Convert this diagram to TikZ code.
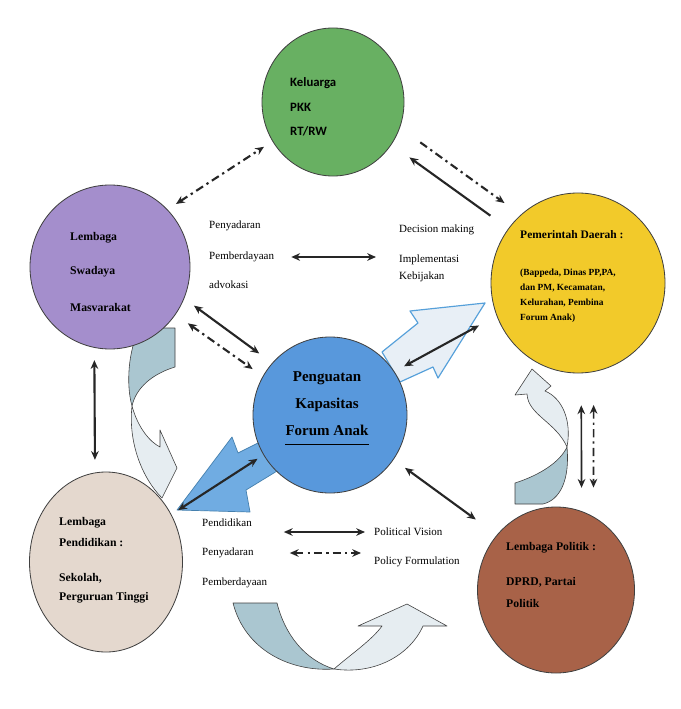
\documentclass[tikz,border=0pt]{standalone}
\usepackage{fontspec}
\setmainfont{Liberation Serif}
\newfontfamily\calibrifont{Carlito}
\usepackage{xcolor}
\usepackage{tikz}
\usetikzlibrary{arrows.meta,shapes.geometric}

\definecolor{keluargaGreen}{RGB}{104,176,98}
\definecolor{lsmPurple}{RGB}{164,142,204}
\definecolor{pemdaYellow}{RGB}{242,202,42}
\definecolor{forumBlue}{RGB}{88,152,220}
\definecolor{pendidikanBeige}{RGB}{228,216,206}
\definecolor{politikBrown}{RGB}{168,98,72}
\definecolor{ribbonDark}{RGB}{170,198,208}
\definecolor{ribbonLight}{RGB}{230,237,241}
\definecolor{bigArrowBlue}{RGB}{112,172,226}
\definecolor{hollowBlue}{RGB}{86,160,218}
\definecolor{hollowFill}{RGB}{232,239,246}

\begin{document}
\begin{tikzpicture}[x=0.03cm,y=-0.03cm]
\useasboundingbox[fill=white] (0,0) rectangle (681,709);

% curved ribbons (behind the circles)
\begin{scope}[draw=black!75,line width=0.5pt,line join=round]
    % left: Swadaya -> Pendidikan
    \filldraw[fill=ribbonDark] (140,328) -- (175,328) -- (175,367)
        .. controls (152,374) and (136,388) .. (132,406)
        .. controls (126,385) and (128,350) .. (140,328) -- cycle;
    \filldraw[fill=ribbonLight] (132,406) .. controls (138,428) and (150,442) .. (160,447)
        -- (160,430) -- (177,468) -- (162,498)
        .. controls (142,478) and (128,442) .. (132,406) -- cycle;
    % right: Politik -> Pemerintah
    \filldraw[fill=ribbonDark] (515,483) -- (515,504) -- (543,504)
        .. controls (560,500) and (570,480) .. (567,447)
        .. controls (560,462) and (540,475) .. (515,483) -- cycle;
    \filldraw[fill=ribbonLight] (567,447) .. controls (572,420) and (562,398) .. (545,391)
        -- (551,386) -- (532,369) -- (515,395) -- (527,394)
        .. controls (528,415) and (556,422) .. (567,447) -- cycle;
    % bottom: U-turn
    \filldraw[fill=ribbonDark] (233,603) -- (277,603)
        .. controls (285,635) and (305,660) .. (334,669)
        .. controls (290,672) and (245,650) .. (233,603) -- cycle;
    \filldraw[fill=ribbonLight] (334,669) .. controls (350,655) and (372,640) .. (382,626)
        -- (358,626) -- (407,604) -- (447,626) -- (423,626)
        .. controls (410,655) and (375,675) .. (334,669) -- cycle;
\end{scope}

% big arrows out of the centre
\begin{scope}[line join=round]
    \filldraw[fill=bigArrowBlue,draw=hollowBlue!80!black,line width=0.6pt]
        (177,510) -- (232,437) -- (238,453) -- (268,438) -- (282,468)
        -- (246,490) -- (250,512) -- cycle;
    \filldraw[fill=hollowFill,draw=hollowBlue,line width=1pt]
        (382,352) -- (418,323) -- (410,311) -- (485,303) -- (438,378)
        -- (433,367) -- (400,382) -- cycle;
\end{scope}

\begin{scope}[every node/.style={ellipse,draw=black!75,line width=0.7pt,inner sep=0pt}]
    \node[fill=keluargaGreen,minimum width=4.26cm,minimum height=4.44cm] (keluarga) at (333,102) {};
    \node[fill=lsmPurple,minimum width=4.8cm,minimum height=4.92cm] (swadaya) at (110,267) {};
    \node[fill=pemdaYellow,minimum width=5.22cm,minimum height=5.4cm] (pemda) at (578,283) {};
    \node[fill=forumBlue,minimum width=4.62cm,minimum height=4.68cm] (forum) at (330,415) {};
    \node[fill=pendidikanBeige,minimum width=4.59cm,minimum height=5.4cm] (pendidikan) at (106,562) {};
    \node[fill=politikBrown,minimum width=4.71cm,minimum height=4.98cm] (politik) at (556,590) {};
\end{scope}

% texts inside the circles
\begin{scope}[every node/.style={anchor=west,inner sep=0pt,font=\calibrifont\bfseries\fontsize{10.9}{13}\selectfont}]
    \node (keluargaTxt) at (290,83) {Keluarga};
    \node (pkkTxt) at (290,107) {PKK};
    \node (rtrwTxt) at (290,131) {RT/RW};
\end{scope}
\begin{scope}[every node/.style={anchor=west,inner sep=0pt,font=\bfseries\fontsize{10}{12}\selectfont}]
    \node (lembagaA) at (70,238) {Lembaga};
    \node (swadayaTxt) at (70,272) {Swadaya};
    \node (masvarakat) at (70,307) {Masvarakat};
    \node (lembagaB) at (59,523) {Lembaga};
    \node (pendidikanTxt) at (59,543) {Pendidikan :};
    \node (sekolah) at (59,578) {Sekolah,};
    \node (perguruan) at (59,598) {Perguruan Tinggi};
    \node (lembagaPolitik) at (506,548) {Lembaga Politik :};
    \node (dprd) at (506,582) {DPRD, Partai};
    \node (politikTxt) at (506,603) {Politik};
    \node[font=\bfseries\fontsize{9.8}{12}\selectfont] (pemerintah) at (520,235) {Pemerintah Daerah :};
\end{scope}
\begin{scope}[every node/.style={anchor=west,inner sep=0pt,font=\bfseries\fontsize{8}{10}\selectfont}]
    \node (bappeda) at (520,273) {(Bappeda, Dinas PP,PA,};
    \node (danPM) at (520,288) {dan PM, Kecamatan,};
    \node (kelurahan) at (520,303) {Kelurahan, Pembina};
    \node (forumAnakB) at (520,318) {Forum Anak)};
\end{scope}
\begin{scope}[every node/.style={inner sep=0pt,font=\bfseries\fontsize{12.8}{15}\selectfont}]
    \node (penguatan) at (327,378) {Penguatan};
    \node (kapasitas) at (327,405) {Kapasitas};
    \node (forumAnak) at (327,430) {Forum Anak};
\end{scope}
\draw[line width=0.8pt] ([yshift=-0.27cm]forumAnak.south west) -- ([yshift=-0.27cm]forumAnak.south east);

% labels between the circles
\begin{scope}[every node/.style={anchor=west,inner sep=0pt,font=\fontsize{9.4}{11}\selectfont}]
    \node (penyadaranA) at (209,226) {Penyadaran};
    \node (pemberdayaanA) at (209,257) {Pemberdayaan};
    \node (advokasi) at (209,285) {advokasi};
    \node (decision) at (399,230) {Decision making};
    \node (implementasi) at (399,260) {Implementasi};
    \node (kebijakan) at (399,277) {Kebijakan};
    \node (pendidikanB) at (202,523) {Pendidikan};
    \node (penyadaranB) at (202,553) {Penyadaran};
    \node (pemberdayaanB) at (202,583) {Pemberdayaan};
    \node (politicalVision) at (374,532) {Political Vision};
    \node (policyFormulation) at (374,562) {Policy Formulation};
\end{scope}

\begin{scope}[>={Stealth[length=7.5pt,width=6.5pt]},
              dashdotarrow/.style={dash pattern=on 7pt off 3.5pt on 2pt off 3.5pt},
              every edge/.style={draw=black!85,line width=1.8pt}]
    \path [<->] (swadaya.45) edge[dashdotarrow,shorten <=0.3cm,shorten >=0.3cm] (keluarga.213);
    \path [->] (pemda.142) edge[shorten <=0.66cm,shorten >=0.66cm] (keluarga.-36);
    \path [->] (keluarga.-21) edge[dashdotarrow,shorten <=0.75cm,shorten >=0.6cm] (pemda.130);
    \path [<->] (pemberdayaanA.east) edge[shorten <=0.51cm,shorten >=0.69cm] (pemberdayaanA.east -| implementasi.west);
    \path [<->] (swadaya.-23) edge[shorten <=0.36cm,shorten >=0.48cm] (forum.138);
    \path [<->] (swadaya.-36) edge[dashdotarrow,shorten <=0.45cm,shorten >=0.37cm] (forum.150);
    \path [<->] (forum.34) edge[shorten <=0.33cm,shorten >=0.6cm] (pemda.202);
    \path [<->] (forum.211) edge[shorten <=0.21cm,shorten >=0.24cm] (pendidikan.36);
    \path [<->] (forum.-35) edge[shorten <=0.42cm,shorten >=0.78cm] (politik.137);
    \path [<->] (swadaya.-101) edge[shorten <=0.37cm,shorten >=0.38cm] (pendidikan.97);
    \path [<->] (pemda.-88) edge[line width=1.4pt,shorten <=0.96cm,shorten >=0.7cm] (politik.72);
    \path [<->] (pemda.-80) edge[line width=1.4pt,dashdotarrow,shorten <=0.99cm,shorten >=0.87cm] (politik.63);
    \path [<->] (penyadaranB.east |- politicalVision.west) edge[shorten <=0.9cm,shorten >=0.27cm] (politicalVision.west);
    \path [<->] (penyadaranB.east) edge[dashdotarrow,shorten <=1.08cm,shorten >=0.39cm] (penyadaranB.east -| policyFormulation.west);
\end{scope}
\end{tikzpicture}
\end{document}
